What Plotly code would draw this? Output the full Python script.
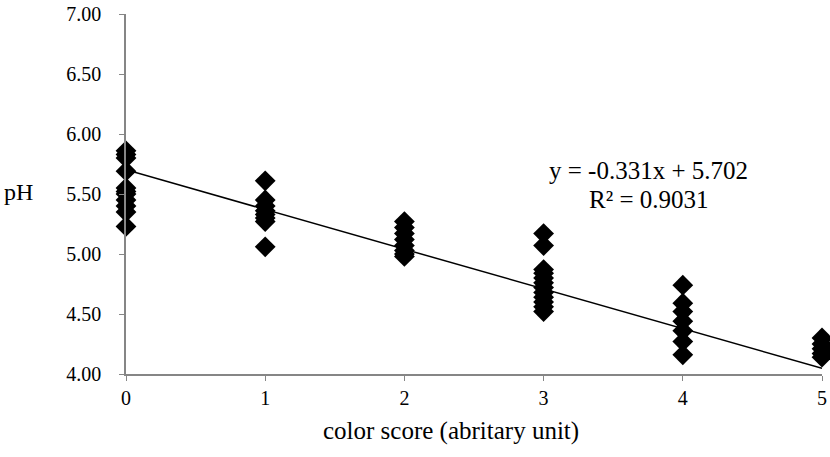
import plotly.graph_objects as go

# Data
score_0 = [5.86, 5.83, 5.80, 5.69, 5.55, 5.52, 5.50, 5.45, 5.40, 5.35, 5.23]
score_1 = [5.61, 5.45, 5.40, 5.36, 5.33, 5.30, 5.27, 5.06]
score_2 = [5.27, 5.22, 5.17, 5.12, 5.07, 5.03, 5.00, 4.98]
score_3 = [5.17, 5.07, 4.87, 4.84, 4.80, 4.76, 4.72, 4.68, 4.64, 4.60, 4.56, 4.52]
score_4 = [4.74, 4.59, 4.52, 4.44, 4.36, 4.27, 4.16]
score_5 = [4.30, 4.25, 4.21, 4.17, 4.14]
slope = -0.331
intercept = 5.702
y_ticks = [4.0, 4.5, 5.0, 5.5, 6.0, 6.5, 7.0]
x_ticks = [0, 1, 2, 3, 4, 5]

groups = [score_0, score_1, score_2, score_3, score_4, score_5]
xs, ys = [], []
for s, vals in zip(x_ticks, groups):
    xs += [s] * len(vals)
    ys += vals

font = "Liberation Serif, Times New Roman, serif"

fig = go.Figure()
fig.add_trace(go.Scatter(
    x=[x_ticks[0], x_ticks[-1]],
    y=[intercept + slope * x_ticks[0], intercept + slope * x_ticks[-1]],
    mode="lines", line=dict(color="black", width=1.5),
    showlegend=False, hoverinfo="skip", cliponaxis=False))
fig.add_trace(go.Scatter(
    x=xs, y=ys, mode="markers",
    marker=dict(symbol="diamond", size=16, color="black"),
    showlegend=False, cliponaxis=False))

axis_common = dict(showgrid=False, zeroline=False, showline=True,
                   linecolor="#868686", linewidth=1.5, ticks="outside",
                   tickcolor="#868686", ticklen=5, automargin=False,
                   ticklabeloverflow="allow",
                   tickfont=dict(family=font, size=20, color="black"))

fig.update_layout(
    template="none",
    width=830, height=457,
    margin=dict(l=126, r=8, t=14, b=83),
    plot_bgcolor="white", paper_bgcolor="white",
    font=dict(family=font, size=20, color="black"),
    xaxis=dict(range=[0, 5], tickvals=x_ticks, **axis_common),
    yaxis=dict(range=[4, 7], tickvals=y_ticks,
               ticktext=[f"{v:.2f}" for v in y_ticks],
               ticklabelstandoff=14, **axis_common),
    annotations=[
        dict(text="color score (abritary unit)", xref="paper", yref="paper",
             x=0.467, y=-0.158, yanchor="middle", showarrow=False,
             font=dict(family=font, size=25)),
        dict(text="pH", xref="paper", yref="paper", x=-0.178, y=0.505,
             xanchor="left", yanchor="middle", showarrow=False,
             font=dict(family=font, size=24)),
        dict(text=f"y = {slope}x + {intercept}", xref="x", yref="y",
             x=3.757, y=5.692, showarrow=False,
             font=dict(family=font, size=25)),
        dict(text="R² = 0.9031", xref="x", yref="y",
             x=3.757, y=5.458, showarrow=False,
             font=dict(family=font, size=25)),
    ],
)

fig.write_html("out.html",
               config={"displayModeBar": False},
               post_script="document.body.style.margin='0';document.body.style.padding='0';")
